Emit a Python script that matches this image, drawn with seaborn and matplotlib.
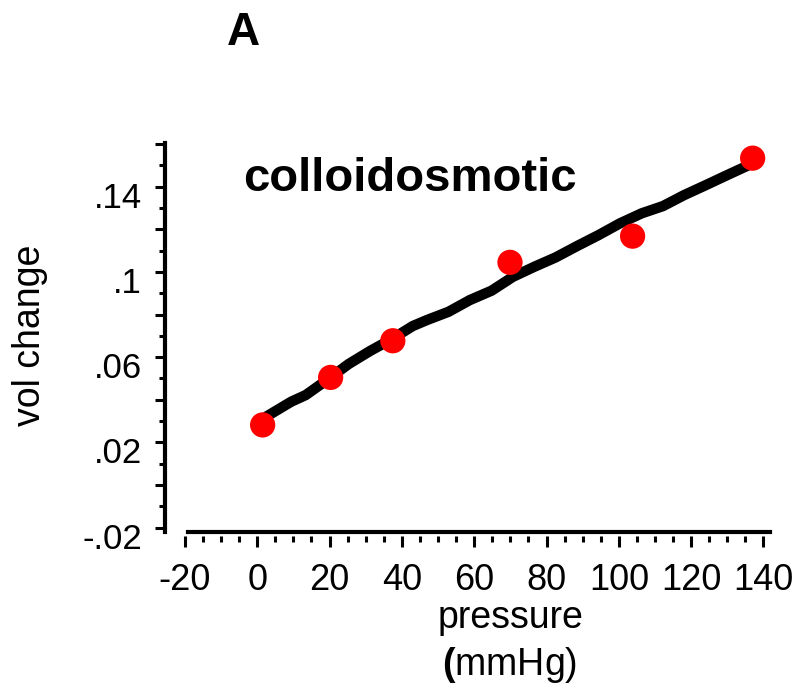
import numpy as np
import pandas as pd
import matplotlib
matplotlib.use("Agg")
import matplotlib.pyplot as plt
import seaborn as sns
from matplotlib.ticker import FixedLocator
from matplotlib.transforms import ScaledTranslation

# measured points
pressure_pts = [1.5, 20.3, 37.5, 69.9, 103.8, 137.0]
volchange_pts = [0.0282, 0.0505, 0.0677, 0.1045, 0.1168, 0.1534]

# fitted curve (traced)
fit_pressure = [1.0, 2.5, 9.4, 13.4, 19.3, 25.3, 31.2, 37.1, 43.0, 46.9, 52.9,
                58.8, 64.8, 70.7, 76.6, 82.5, 88.4, 94.4, 100.3, 106.3, 112.2,
                118.1, 124.0, 129.9, 135.9, 137.0]
fit_volchange = [0.0290, 0.0321, 0.0391, 0.0422, 0.0493, 0.0568, 0.0629, 0.0684,
                 0.0746, 0.0774, 0.0813, 0.0868, 0.0912, 0.0977, 0.1024, 0.1068,
                 0.1121, 0.1173, 0.1228, 0.1275, 0.1309, 0.1361, 0.1407, 0.1454,
                 0.1501, 0.1510]

x_tick_values = [-20, 0, 20, 40, 60, 80, 100, 120, 140]
x_tick_labels = ["-20", "0", "20", "40", "60", "80", "100", "120", "140"]
y_major_ticks = [-0.02, 0.0, 0.02, 0.04, 0.06, 0.08, 0.10, 0.12, 0.14, 0.16]
y_tick_labels = ["-.02", "", ".02", "", ".06", "", ".1", "", ".14", ""]
y_minor_ticks = [-0.01, 0.01, 0.03, 0.05, 0.07, 0.09, 0.11, 0.13, 0.15]
x_minor_ticks = [v for v in range(-20, 141, 5) if v % 20 != 0]

sns.set_theme(style="white")
plt.rcParams['font.family'] = ['Liberation Sans', 'DejaVu Sans']
plt.rcParams['mathtext.fontset'] = 'custom'
plt.rcParams['mathtext.rm'] = 'Liberation Sans'
plt.rcParams['mathtext.bf'] = 'Liberation Sans:bold'

fig = plt.figure(figsize=(8.01, 6.87), dpi=100)
ax = fig.add_axes([0.206, 0.2261, 0.7553, 0.5657])

sns.lineplot(x=fit_pressure, y=fit_volchange, ax=ax, color='black', linewidth=7.5,
             sort=False, estimator=None, solid_capstyle='round', zorder=2)
sns.scatterplot(x=pressure_pts, y=volchange_pts, ax=ax, color='#ff0000', s=330,
                edgecolor='none', linewidth=0, zorder=3)

ax.set_xlim(-25.5, 141.8)
ax.set_ylim(-0.0219, 0.1605)

for s in ['top', 'right']:
    ax.spines[s].set_visible(False)
for s in ['left', 'bottom']:
    ax.spines[s].set_linewidth(3)
    ax.spines[s].set_color('black')
ax.spines['bottom'].set_bounds(-19.2, 141.8)

# y axis
ax.set_yticks(y_major_ticks, labels=y_tick_labels)
ax.yaxis.set_minor_locator(FixedLocator(y_minor_ticks))
ax.tick_params(axis='y', which='major', left=True, length=7.5, width=2.2,
               direction='out', pad=9, labelsize=25, colors='black')
ax.tick_params(axis='y', which='minor', left=True, length=4.5, width=2.2,
               direction='out', colors='black')
for lbl in ax.get_yticklabels():
    lbl.set_transform(lbl.get_transform() + ScaledTranslation(0, -8 / 100, fig.dpi_scale_trans))

# x axis: ticks detached below the line
ax.set_xticks([])
ax.tick_params(axis='x', bottom=False, labelbottom=False)
sec = ax.secondary_xaxis(-0.0103)
sec.spines['bottom'].set_visible(False)
sec.set_xticks(x_tick_values, labels=x_tick_labels)
sec.xaxis.set_minor_locator(FixedLocator(x_minor_ticks))
sec.tick_params(axis='x', which='major', bottom=True, labelbottom=True, length=8,
                width=2.2, direction='out', pad=12, labelsize=26, colors='black')
sec.tick_params(axis='x', which='minor', bottom=True, length=4.5, width=2.2,
                direction='out', colors='black')

ax.set_xlabel("")
ax.set_ylabel("")

fig.text(30 / 801, 1 - 335 / 687, "vol change", rotation=90, ha='center', va='center',
         fontsize=27, color='black')
fig.text(511 / 801, 1 - 628 / 687, "pressure", ha='center', va='baseline',
         fontsize=27, color='black')
fig.text(510 / 801, 1 - 675 / 687, r"$\mathbf{(}$mmHg)", ha='center', va='baseline',
         fontsize=27, color='black')
fig.text(243 / 801, 1 - 191 / 687, "colloidosmotic", ha='left', va='baseline',
         fontsize=34, fontweight='bold', color='black')
fig.text(243 / 801, 1 - 45 / 687, "A", ha='center', va='baseline',
         fontsize=33, fontweight='bold', color='black')

fig.savefig("out.png", dpi=100)
